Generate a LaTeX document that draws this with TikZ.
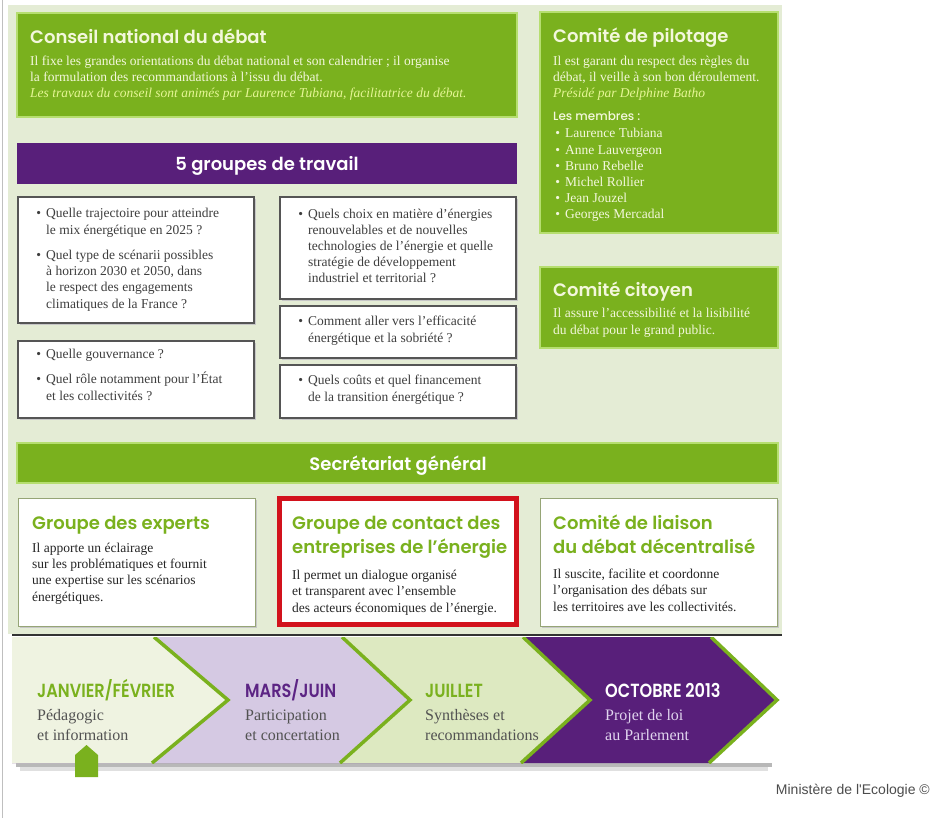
\documentclass[tikz,border=0pt]{standalone}
\usepackage{fontspec}
\setmainfont{Liberation Serif}
\newfontfamily\headfont{Poppins}[UprightFont=* SemiBold,BoldFont=* SemiBold]
\newfontfamily\lightfont{Poppins}[UprightFont=* Medium]
\newfontfamily\tlfont{Poppins}[UprightFont=* SemiBold,FakeStretch=0.85]
\newfontfamily\notefont{Liberation Sans}
\definecolor{cgreen}{RGB}{122,177,30}
\definecolor{clime}{RGB}{182,222,112}
\definecolor{cpanel}{RGB}{228,236,213}
\definecolor{cpurple}{RGB}{88,31,122}
\definecolor{cpurpletext}{RGB}{92,36,132}
\definecolor{clav}{RGB}{213,201,227}
\definecolor{cpale}{RGB}{239,243,225}
\definecolor{clgreen}{RGB}{221,233,193}
\definecolor{cred}{RGB}{210,18,28}
\definecolor{ccream}{RGB}{243,247,220}
\definecolor{citalic}{RGB}{230,246,150}
\definecolor{ctext}{RGB}{62,62,62}
\definecolor{cboxline}{RGB}{85,85,85}
\definecolor{colive}{RGB}{150,165,118}
\definecolor{clavtext}{RGB}{224,212,238}
\newcommand\itm{\llap{•\hspace{5pt}}}
\begin{document}
\begin{tikzpicture}[x=1pt,y=-1pt,
  greenbox/.style={fill=cgreen,draw=clime,line width=1.2pt},
  qbox/.style={fill=white,draw=cboxline,line width=1.3pt},
  gbox/.style={fill=white,draw=colive,line width=1pt},
  boxshadow/.style={fill=black!22},
  head/.style={anchor=base west,inner sep=0pt,align=left,text=ccream,font=\headfont\fontsize{18}{24}\selectfont},
  bandtitle/.style={anchor=base,inner sep=0pt,text=white,font=\headfont\fontsize{18}{20}\selectfont},
  greentxt/.style={anchor=base west,inner sep=0pt,align=left,text=ccream,font=\fontsize{13.5}{16.2}\selectfont},
  qtxt/.style={anchor=base west,inner sep=0pt,align=left,text=ctext,font=\fontsize{13.5}{16.2}\selectfont},
  subhead/.style={head,text=cgreen},
  subtxt/.style={anchor=base west,inner sep=0pt,align=left,text=black!85,font=\fontsize{13.5}{16.3}\selectfont},
  tlhead/.style={anchor=base west,inner sep=0pt,font=\tlfont\fontsize{19}{20}\selectfont},
  tltxt/.style={anchor=base west,inner sep=0pt,align=left,text=black!68,font=\fontsize{16}{19.5}\selectfont},
  chevron/.style={cgreen,line width=3.5pt}
]
\useasboundingbox (0,0) rectangle (939,818);
\fill[white] (0,0) rectangle (939,818);
\draw[black!25,line width=0.8pt] (2.5,0) -- (2.5,818);
\fill[cpanel] (8,5) rectangle (782,634);

% conseil et comites (multi-line texts sit on their last baseline)
\draw[greenbox] (17,13) rectangle (517,117);
\node[head] (cnd) at (30,44) {Conseil national du débat};
\node[greentxt] (cndtxt) at (30,98) {Il fixe les grandes orientations du débat national et son calendrier ; il organise\\
  la formulation des recommandations à l’issu du débat.\\
  \textcolor{citalic}{\itshape Les travaux du conseil sont animés par Laurence Tubiana, facilitatrice du débat.}};

\draw[greenbox] (540,12) rectangle (778,233);
\node[head] (cdp) at (553,43) {Comité de pilotage};
\node[greentxt] (cdptxt) at (553,98) {Il est garant du respect des règles du\\
  débat, il veille à son bon déroulement.\\
  \textcolor{citalic}{\itshape Présidé par Delphine Batho}};
\node[anchor=base west,inner sep=0pt,text=ccream,font=\lightfont\fontsize{12}{14}\selectfont] (membres) at (553,121) {Les membres :};
\node[greentxt] (liste) at (565,219) {\itm Laurence Tubiana\\ \itm Anne Lauvergeon\\ \itm Bruno Rebelle\\
  \itm Michel Rollier\\ \itm Jean Jouzel\\ \itm Georges Mercadal};

\draw[greenbox] (540,267) rectangle (778,348);
\node[head] (cc) at (553,296) {Comité citoyen};
\node[greentxt] (cctxt) at (553,334) {Il assure l’accessibilité et la lisibilité\\ du débat pour le grand public.};

% groupes de travail
\fill[cpurple] (17,143) rectangle (517,184);
\node[bandtitle] (gdt) at (267,171) {5 groupes de travail};

\fill[boxshadow] (20,199) rectangle (256,325);
\draw[qbox] (18,197) rectangle (254,323);
\node[qtxt] (q1) at (46,308) {\itm Quelle trajectoire pour atteindre\\ le mix énergétique en 2025 ?\\[9pt]
  \itm Quel type de scénarii possibles\\ à horizon 2030 et 2050, dans\\ le respect des engagements\\ climatiques de la France ?};
\fill[boxshadow] (20,343) rectangle (256,420);
\draw[qbox] (18,341) rectangle (254,418);
\node[qtxt] (q2) at (46,400) {\itm Quelle gouvernance ?\\[9pt] \itm Quel rôle notamment pour l’État\\ et les collectivités ?};
\fill[boxshadow] (282,199) rectangle (518,301);
\draw[qbox] (280,197) rectangle (516,299);
\node[qtxt] (q3) at (308,283) {\itm Quels choix en matière d’énergies\\ renouvelables et de nouvelles\\
  technologies de l’énergie et quelle\\ stratégie de développement\\ industriel et territorial ?};
\fill[boxshadow] (282,308) rectangle (518,360);
\draw[qbox] (280,306) rectangle (516,358);
\node[qtxt] (q4) at (308,342) {\itm Comment aller vers l’efficacité\\ énergétique et la sobriété ?};
\fill[boxshadow] (282,367) rectangle (518,420);
\draw[qbox] (280,365) rectangle (516,418);
\node[qtxt] (q5) at (308,401) {\itm Quels coûts et quel financement\\ de la transition énergétique ?};

% secretariat
\draw[greenbox] (17,443) rectangle (778,483);
\node[bandtitle] (sg) at (398,470) {Secrétariat général};

\fill[boxshadow] (20,500) rectangle (257,628);
\draw[gbox] (18,498) rectangle (255,626);
\node[subhead] (gde) at (32,529) {Groupe des experts};
\node[subtxt] (gdetxt) at (32,601) {Il apporte un éclairage\\ sur les problématiques et fournit\\
  une expertise sur les scénarios\\ énergétiques.};

\draw[fill=white,draw=cred,line width=5pt] (279.5,498.5) rectangle (516.5,624.5);
\node[subhead] (gce) at (292,553) {Groupe de contact des\\ entreprises de l’énergie};
\node[subtxt] (gcetxt) at (292,612) {Il permet un dialogue organisé\\ et transparent avec l’ensemble\\
  des acteurs économiques de l’énergie.};

\fill[boxshadow] (542,500) rectangle (779,628);
\draw[gbox] (540,498) rectangle (777,626);
\node[subhead] (cld) at (553,553) {Comité de liaison\\ du débat décentralisé};
\node[subtxt] (cldtxt) at (553,611) {Il suscite, facilite et coordonne\\ l’organisation des débats sur\\
  les territoires ave les collectivités.};

% calendrier
\draw[black!80,line width=1.5pt] (12,635) -- (782,635);
\fill[black,opacity=0.28] (16,763) rectangle (772,767);
\fill[black,opacity=0.12] (20,767) rectangle (768,771);
\begin{scope}
\clip (0,637) rectangle (800,763);
\fill[cpurple] (12,637) -- (711,637) -- (777,700) -- (709,763) -- (12,763) -- cycle;
\draw[chevron] (711,637) -- (777,700) -- (709,763);
\fill[clgreen] (12,637) -- (523,637) -- (590,700) -- (521,763) -- (12,763) -- cycle;
\draw[chevron] (523,637) -- (590,700) -- (521,763);
\fill[clav] (12,637) -- (342,637) -- (410,700) -- (340,763) -- (12,763) -- cycle;
\draw[chevron] (342,637) -- (410,700) -- (340,763);
\fill[cpale] (12,637) -- (154,637) -- (228,700) -- (152,763) -- (12,763) -- cycle;
\draw[chevron] (154,637) -- (228,700) -- (152,763);
\end{scope}
\fill[cgreen] (75,777) -- (75,755) -- (86.5,745) -- (98,755) -- (98,777) -- cycle;

\node[tlhead,text=cgreen] (t1) at (37,697) {JANVIER/FÉVRIER};
\node[tltxt] (t1txt) at (37,740) {Pédagogic\\ et information};
\node[tlhead,text=cpurpletext] (t2) at (245,697) {MARS/JUIN};
\node[tltxt] (t2txt) at (245,740) {Participation\\ et concertation};
\node[tlhead,text=cgreen] (t3) at (425,697) {JUILLET};
\node[tltxt] (t3txt) at (425,740) {Synthèses et\\ recommandations};
\node[tlhead,text=white] (t4) at (605,697) {OCTOBRE 2013};
\node[tltxt,text=clavtext] (t4txt) at (605,740) {Projet de loi\\ au Parlement};

\node[anchor=base east,inner sep=0pt,text=black!70,font=\notefont\fontsize{14}{16}\selectfont] (credit) at (930,794) {Ministère de l'Ecologie ©};
\end{tikzpicture}
\end{document}
